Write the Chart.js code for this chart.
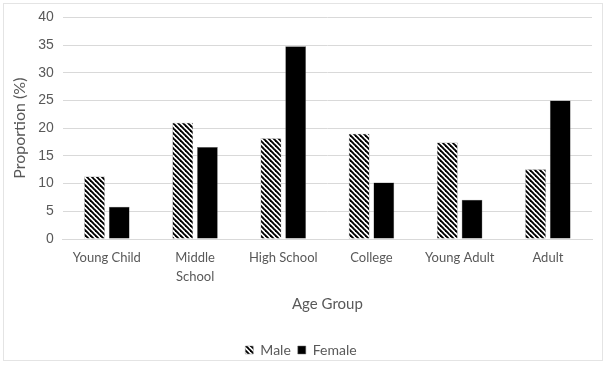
<!DOCTYPE html>
<html>
<head>
<meta charset="utf-8">
<script src="https://cdn.jsdelivr.net/npm/chart.js@4.4.1/dist/chart.umd.min.js"></script>
<style>
  html, body { margin: 0; padding: 0; background: #fff; }
  #wrap { position: relative; width: 608px; height: 365px; }
  #frame { position: absolute; left: 3px; top: 3px; width: 600px; height: 358px;
           border: 1px solid #e4e4e4; box-sizing: border-box; pointer-events: none; }
</style>
</head>
<body>
<div id="wrap">
  <canvas id="chart" width="608" height="365"></canvas>
  <div id="frame"></div>
</div>
<script>
// Values (percent).
const ageGroups = ['Young Child', ['Middle', 'School'], 'High School', 'College', 'Young Adult', 'Adult'];
const maleValues = [11.3, 21.0, 18.2, 19.0, 17.4, 12.6];
const femaleValues = [5.8, 16.6, 34.8, 10.2, 7.1, 25.0];
const yTicks = [0, 5, 10, 15, 20, 25, 30, 35, 40];

// Diagonal "\" hatch for the male series.
function makeHatch() {
  const s = 5;
  const c = document.createElement('canvas');
  c.width = s;
  c.height = s;
  const g = c.getContext('2d');
  g.fillStyle = '#fff';
  g.fillRect(0, 0, s, s);
  g.strokeStyle = '#000';
  g.lineWidth = 1.9;
  for (const k of [-s, 0, s]) {
    g.beginPath();
    g.moveTo(k - 1, -1);
    g.lineTo(k + s + 1, s + 1);
    g.stroke();
  }
  return g.createPattern(c, 'repeat');
}

const hatch = makeHatch();
const textColor = '#595959';
const lato = 'Lato, "Liberation Sans", sans-serif';

new Chart(document.getElementById('chart').getContext('2d'), {
  type: 'bar',
  data: {
    labels: ageGroups,
    datasets: [{
      label: 'Male',
      data: maleValues,
      backgroundColor: hatch,
      borderColor: '#8a8a8a',
      borderWidth: 0.5
    }, {
      label: 'Female',
      data: femaleValues,
      backgroundColor: '#000',
      borderColor: '#6a6a6a',
      borderWidth: 0.5
    }]
  },
  options: {
    responsive: false,
    animation: false,
    categoryPercentage: 0.56,
    barPercentage: 0.84,
    layout: { padding: { left: 10, right: 16, top: 6, bottom: -2 } },
    scales: {
      x: {
        grid: { display: false },
        border: { color: '#d9d9d9' },
        ticks: { color: textColor, font: { family: lato, size: 13, lineHeight: 1.5 }, padding: 1, maxRotation: 0, autoSkip: false },
        title: { display: true, text: 'Age Group', color: textColor, font: { family: lato, size: 15 }, padding: { top: 7, bottom: 23 } }
      },
      y: {
        min: 0,
        max: 40,
        afterBuildTicks: axis => { axis.ticks = yTicks.map(v => ({ value: v })); },
        grid: { color: '#d9d9d9', drawTicks: false },
        border: { display: false },
        ticks: { color: textColor, font: { family: '"Liberation Sans", Arial, sans-serif', size: 14 }, padding: 9 },
        title: { display: true, text: 'Proportion (%)', color: textColor, font: { family: lato, size: 16 }, padding: 0 }
      }
    },
    plugins: {
      legend: {
        position: 'bottom',
        labels: {
          color: textColor,
          font: { family: lato, size: 14 },
          boxWidth: 8,
          boxHeight: 8,
          padding: 7
        }
      },
      tooltip: { enabled: false }
    }
  }
});
</script>
</body>
</html>
